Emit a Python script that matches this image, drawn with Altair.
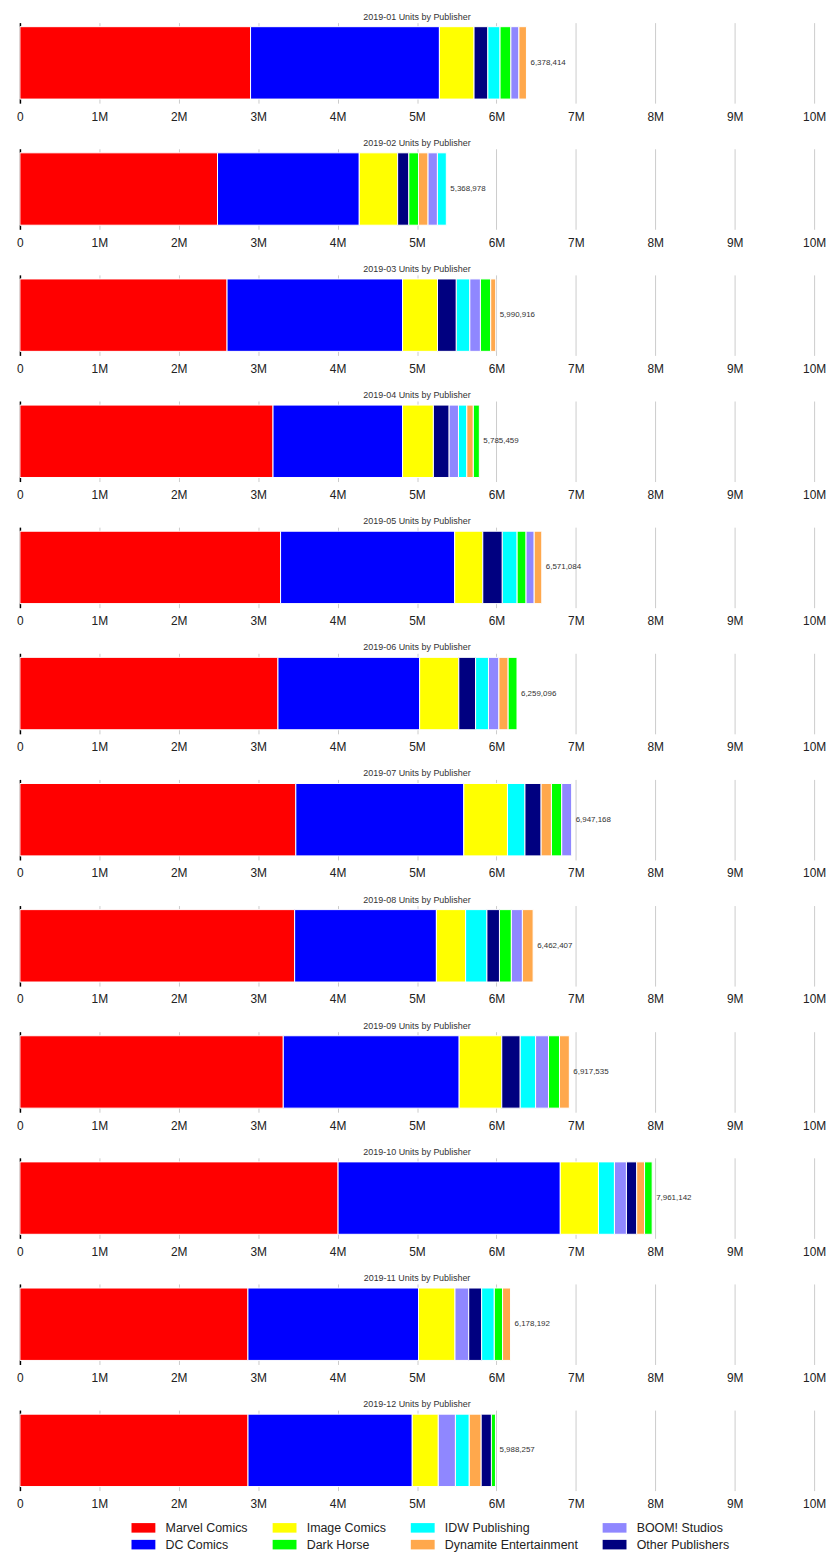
import altair as alt
import pandas as pd

months = ["2019-01", "2019-02", "2019-03", "2019-04", "2019-05", "2019-06",
          "2019-07", "2019-08", "2019-09", "2019-10", "2019-11", "2019-12"]

# units in thousands
marvel = [2904, 2488, 2608, 3187, 3282, 3249, 3474, 3459, 3316, 4006, 2871, 2872]
dc = [2378, 1785, 2210, 1631, 2192, 1784, 2115, 1785, 2215, 2798, 2148, 2068]
image = [436, 483, 440, 388, 354, 493, 550, 368, 536, 481, 459, 328]
dark_horse = [139, 124, 130, 78, 115, 114, 130, 150, 138, 96, 106, 52]
idw = [153, 113, 172, 105, 186, 163, 220, 268, 196, 201, 158, 175]
dynamite = [97, 120, 63, 80, 98, 116, 132, 136, 124, 100, 101, 150]
boom = [99, 117, 133, 120, 100, 129, 125, 138, 163, 151, 173, 215]
other = [172, 139, 235, 196, 244, 211, 201, 158, 230, 128, 162, 128]

totals = [6378414, 5368978, 5990916, 5785459, 6571084, 6259096,
          6947168, 6462407, 6917535, 7961142, 6178192, 5988257]

publishers = {
    "Marvel Comics": marvel,
    "DC Comics": dc,
    "Image Comics": image,
    "Dark Horse": dark_horse,
    "IDW Publishing": idw,
    "Dynamite Entertainment": dynamite,
    "BOOM! Studios": boom,
    "Other Publishers": other,
}

legend_order = ["Marvel Comics", "Image Comics", "IDW Publishing", "BOOM! Studios",
                "DC Comics", "Dark Horse", "Dynamite Entertainment", "Other Publishers"]
legend_colors = ["#ff0000", "#ffff00", "#00ffff", "#8f87ff",
                 "#0000ff", "#00ff00", "#ffa84c", "#000080"]

rows = []
for p, vals in publishers.items():
    for m, v in zip(months, vals):
        rows.append({"month": m, "publisher": p, "units": v * 1000})
df = pd.DataFrame(rows)
tot_df = pd.DataFrame({"month": months, "total": totals})

FONT = "Liberation Sans"
ticks = [i * 1000000 for i in range(11)]

panels = []
for i, m in enumerate(months):
    d = df[df.month == m]
    t = tot_df[tot_df.month == m]
    yenc = alt.Y("month:N",
                 axis=alt.Axis(title=None, labels=False, ticks=False, domain=True,
                               domainColor="#000000", domainWidth=1.5, grid=False),
                 scale=alt.Scale(paddingInner=0, paddingOuter=0.056))
    bars = alt.Chart(d).mark_bar(stroke="white", strokeWidth=1).encode(
        x=alt.X("units:Q", stack="zero",
                scale=alt.Scale(domain=[0, 10000000], nice=False),
                axis=alt.Axis(values=ticks,
                              labelExpr="datum.value == 0 ? '0' : format(datum.value, '~s')",
                              grid=True, gridColor="#cccccc",
                              domain=False, ticks=False, labelFontSize=12,
                              labelPadding=8, labelFlush=False, labelColor="#222222",
                              title=None)),
        y=yenc,
        color=alt.Color("publisher:N",
                        scale=alt.Scale(domain=legend_order, range=legend_colors),
                        legend=alt.Legend(title=None, orient="none", columns=4,
                                          direction="horizontal",
                                          legendX=118, legendY=1508,
                                          symbolType="M-2,-0.8H2V0.8H-2Z",
                                          symbolSize=144, symbolStrokeWidth=0,
                                          symbolOpacity=1,
                                          labelFontSize=12.5, labelOffset=16,
                                          labelColor="#222222",
                                          columnPadding=24, rowPadding=4,
                                          padding=0, labelFont=FONT)),
        order=alt.Order("units:Q", sort="descending"),
    )
    labels = alt.Chart(t).mark_text(align="left", baseline="middle", dx=4,
                                    fontSize=8, color="#333333", font=FONT).encode(
        x=alt.X("total:Q"),
        y=alt.Y("month:N"),
        text=alt.Text("total:Q", format=","),
    )
    panel = alt.layer(bars, labels).properties(
        width=799, height=81,
        title=alt.Title(f"{m} Units by Publisher", fontSize=9, fontWeight="normal",
                        color="#333333", anchor="middle", offset=1, font=FONT),
    )
    panels.append(panel)

chart = alt.vconcat(*panels, spacing=16.9).properties(
    padding={"left": 8, "top": 0, "right": 5, "bottom": 5}
).configure(font=FONT, view=alt.ViewConfig(stroke=None))

chart.save("out.html", embed_options={"renderer": "svg", "actions": False})
